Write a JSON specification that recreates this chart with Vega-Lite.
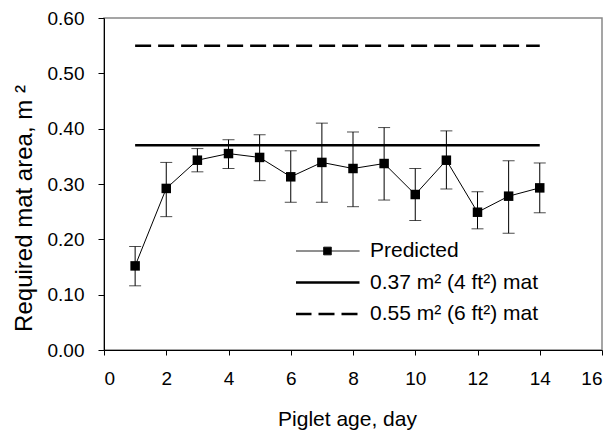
{
  "$schema": "https://vega.github.io/schema/vega-lite/v6.json",
  "width": 498,
  "height": 332,
  "autosize": "none",
  "padding": {"left": 104, "top": 18, "right": 14, "bottom": 81},
  "background": "white",
  "config": {
    "font": "Liberation Sans",
    "view": {"stroke": "#888888", "strokeWidth": 1.5},
    "axis": {
      "grid": false,
      "domainColor": "black",
      "domainWidth": 1,
      "tickColor": "black",
      "tickWidth": 1,
      "labelFont": "Liberation Sans",
      "labelColor": "black",
      "labelFontSize": 19,
      "titleFont": "Liberation Sans",
      "titleColor": "black",
      "titleFontWeight": "normal",
      "titleFontSize": 21
    }
  },
  "datasets": {
    "pred": [
      {"day": 1, "mean": 0.152, "lo": 0.116, "hi": 0.187},
      {"day": 2, "mean": 0.292, "lo": 0.241, "hi": 0.339},
      {"day": 3, "mean": 0.343, "lo": 0.322, "hi": 0.364},
      {"day": 4, "mean": 0.355, "lo": 0.328, "hi": 0.380},
      {"day": 5, "mean": 0.348, "lo": 0.306, "hi": 0.389},
      {"day": 6, "mean": 0.313, "lo": 0.267, "hi": 0.360},
      {"day": 7, "mean": 0.339, "lo": 0.267, "hi": 0.410},
      {"day": 8, "mean": 0.328, "lo": 0.259, "hi": 0.394},
      {"day": 9, "mean": 0.337, "lo": 0.271, "hi": 0.402},
      {"day": 10, "mean": 0.281, "lo": 0.234, "hi": 0.328},
      {"day": 11, "mean": 0.343, "lo": 0.291, "hi": 0.396},
      {"day": 12, "mean": 0.249, "lo": 0.219, "hi": 0.286},
      {"day": 13, "mean": 0.278, "lo": 0.211, "hi": 0.342},
      {"day": 14, "mean": 0.293, "lo": 0.248, "hi": 0.338}
    ],
    "refs": [
      {"series": "0.37 m² (4 ft²) mat", "area": 0.37, "start": 1, "end": 14},
      {"series": "0.55 m² (6 ft²) mat", "area": 0.55, "start": 1, "end": 14}
    ]
  },
  "layer": [
    {
      "data": {"name": "refs"},
      "mark": {"type": "rule", "color": "black", "strokeWidth": 2.5},
      "encoding": {
        "x": {"field": "start", "type": "quantitative",
              "scale": {"domain": [0, 16], "nice": false},
              "axis": {"values": [0, 2, 4, 6, 8, 10, 12, 14, 16], "tickSize": 5, "labelPadding": 14, "title": "Piglet age, day", "titleBaseline": "top", "titleY": 58, "titleX": 243}},
        "x2": {"field": "end"},
        "y": {"field": "area", "type": "quantitative",
              "scale": {"domain": [0, 0.6], "nice": false},
              "axis": {"values": [0, 0.1, 0.2, 0.3, 0.4, 0.5, 0.6], "format": ".2f", "tickSize": 6, "labelPadding": 14, "title": "Required mat area, m  ²", "titleFontSize": 24, "titleBaseline": "middle", "titleX": -80, "titleY": 190}},
        "strokeDash": {
          "field": "series", "type": "nominal",
          "scale": {"domain": ["Predicted", "0.37 m² (4 ft²) mat", "0.55 m² (6 ft²) mat"],
                    "range": [[1, 0], [1, 0], [16, 7]]},
          "legend": {
            "title": null,
            "orient": "none",
            "legendX": 192,
            "legendY": 222,
            "padding": 0,
            "symbolSize": 4096,
            "symbolOffset": 21,
            "clipHeight": 22,
            "rowPadding": 9.5,
            "labelOffset": 32,
            "labelFont": "Liberation Sans",
            "labelFontSize": 21,
            "labelColor": "black",
            "labelLimit": 400,
            "symbolStrokeColor": "black",
            "encode": {
              "symbols": {
                "update": {
                  "shape": {"signal": "datum.value === 'Predicted' ? 'M-1,0H1M-0.12,-0.12H0.12V0.12H-0.12Z' : 'M-1,0H1'"},
                  "fill": {"value": "black"},
                  "stroke": {"value": "black"},
                  "strokeWidth": {"signal": "datum.value === 'Predicted' ? 1 : 2.5"}
                }
              }
            }
          }
        }
      }
    },
    {
      "data": {"name": "pred"},
      "mark": {"type": "rule", "color": "black", "strokeWidth": 1},
      "encoding": {
        "x": {"field": "day", "type": "quantitative"},
        "y": {"field": "lo", "type": "quantitative"},
        "y2": {"field": "hi"}
      }
    },
    {
      "data": {"name": "pred"},
      "mark": {"type": "tick", "orient": "horizontal", "color": "black", "size": 12, "thickness": 1},
      "encoding": {
        "x": {"field": "day", "type": "quantitative"},
        "y": {"field": "hi", "type": "quantitative"}
      }
    },
    {
      "data": {"name": "pred"},
      "mark": {"type": "tick", "orient": "horizontal", "color": "black", "size": 12, "thickness": 1},
      "encoding": {
        "x": {"field": "day", "type": "quantitative"},
        "y": {"field": "lo", "type": "quantitative"}
      }
    },
    {
      "data": {"name": "pred"},
      "mark": {"type": "line", "color": "black", "strokeWidth": 1},
      "encoding": {
        "x": {"field": "day", "type": "quantitative"},
        "y": {"field": "mean", "type": "quantitative"}
      }
    },
    {
      "data": {"name": "pred"},
      "mark": {"type": "point", "shape": "square", "filled": true, "color": "black", "size": 90, "opacity": 1},
      "encoding": {
        "x": {"field": "day", "type": "quantitative"},
        "y": {"field": "mean", "type": "quantitative"}
      }
    }
  ]
}
